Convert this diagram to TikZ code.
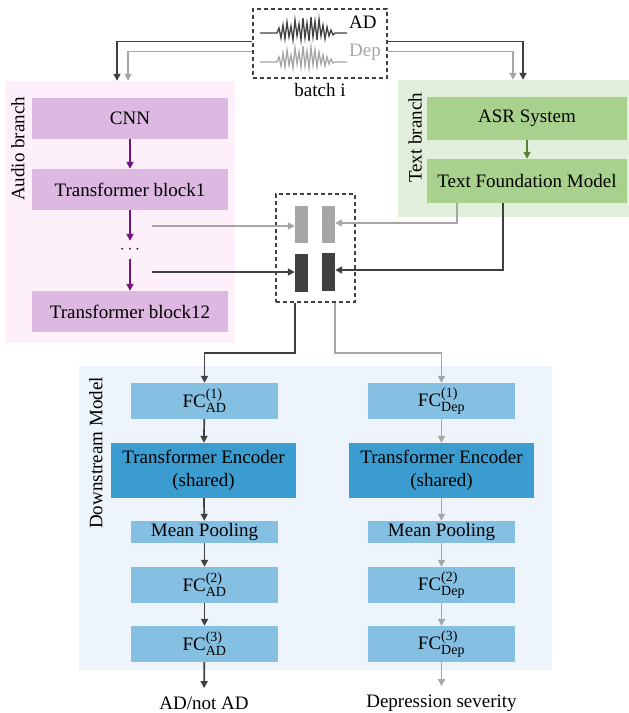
\documentclass[tikz,border=0pt]{standalone}
\usepackage{fontspec}
\setmainfont{Liberation Serif}
\usetikzlibrary{arrows.meta}

\definecolor{audiobgc}{HTML}{FDF0FB}
\definecolor{audioboxc}{HTML}{DDB8E0}
\definecolor{audioarrc}{HTML}{72147E}
\definecolor{textbgc}{HTML}{E2EFDA}
\definecolor{textboxc}{HTML}{A9D18E}
\definecolor{textarrc}{HTML}{548235}
\definecolor{downbgc}{HTML}{EDF4FB}
\definecolor{fcboxc}{HTML}{85C0E3}
\definecolor{encboxc}{HTML}{3B9CD0}
\definecolor{darkc}{HTML}{404040}
\definecolor{lightc}{HTML}{A6A6A6}

\newcommand{\scriptsz}{\fontsize{14}{14}\selectfont}
\newcommand{\fclabel}[2]{FC$^{\hbox{\scriptsz(#1)}}_{\hbox{\scriptsz#2}}$}

\tikzset{
  blk/.style={rectangle, inner sep=0pt, minimum width=#1},
  audiobox/.style={blk=196, minimum height=41, fill=audioboxc},
  textbox/.style={blk=200, fill=textboxc},
  fcbox/.style={blk=147, minimum height=36, fill=fcboxc},
  encbox/.style={blk=185, minimum height=55, fill=encboxc, align=center},
  bar/.style={blk=13, minimum height=37},
  dashbox/.style={draw=darkc, dash pattern=on 4pt off 3pt, line width=1.4pt},
  tip/.style={-{Triangle[length=7pt,width=7pt]}, line width=1.7pt},
  dkline/.style={tip, draw=darkc},
  ltline/.style={tip, draw=lightc},
  sidelbl/.style={rotate=90}
}

\begin{document}
\begin{tikzpicture}[x=1pt, y=-1pt, font=\fontsize{19}{22.5}\selectfont]
  \useasboundingbox (0,0) rectangle (629,713);

  \node[blk=230, minimum height=262, fill=audiobgc] (audiobg) at (120,212) {};
  \node[blk=231, minimum height=137, fill=textbgc] (textbg) at (513.5,148.5) {};
  \node[blk=473, minimum height=304, fill=downbgc] (downbg) at (315.5,518) {};

  \node[sidelbl] (audiolbl) at (18,149) {Audio branch};
  \node[sidelbl] (textlbl) at (415,138) {Text branch};
  \node[sidelbl] (downlbl) at (96,453) {Downstream Model};

  \node[audiobox] (cnn) at (130,118.5) {CNN};
  \node[audiobox] (tb1) at (130,189.5) {Transformer block1};
  \node[inner sep=0pt, minimum height=18] (dots) at (130,250) {$\cdots$};
  \node[audiobox] (tb12) at (130,311.5) {Transformer block12};
  \draw[tip, audioarrc] (cnn) -- (tb1);
  \draw[tip, audioarrc] (tb1) -- (dots);
  \draw[tip, audioarrc] (dots) -- (tb12);

  \node[textbox, minimum height=43] (asr) at (527,118.5) {ASR System};
  \node[textbox, minimum height=44] (tfm) at (527,181) {Text Foundation Model};
  \draw[tip, textarrc] (asr) -- (tfm);

  \node[dashbox, blk=134, minimum height=69] (batch) at (320,43.5) {};
  \node (batchlbl) at (320,90) {batch i};
  \draw[darkc, line width=1.3pt] (260,33) -- (277,33) -- (279,28) -- (281,38) -- (283,25)
    -- (285,39) -- (287,22) -- (289,37) -- (291,26) -- (293,40) -- (295,20) -- (297,36)
    -- (299,24) -- (301,40) -- (303,18) -- (305,38) -- (307,23) -- (309,41) -- (311,17)
    -- (313,37) -- (315,21) -- (317,40) -- (319,19) -- (321,36) -- (323,25) -- (325,39)
    -- (327,27) -- (329,36) -- (331,30) -- (333,35) -- (335,33) -- (347,33);
  \draw[lightc, line width=1.3pt] (260,62) -- (277,62) -- (279,57) -- (281,66) -- (283,53)
    -- (285,67) -- (287,50) -- (289,65) -- (291,55) -- (293,68) -- (295,48) -- (297,64)
    -- (299,52) -- (301,67) -- (303,46) -- (305,66) -- (307,51) -- (309,68) -- (311,47)
    -- (313,65) -- (315,50) -- (317,67) -- (319,52) -- (321,64) -- (323,55) -- (325,66)
    -- (327,57) -- (329,64) -- (331,59) -- (333,63) -- (335,62) -- (347,62);
  \node[anchor=base west, inner sep=1pt] (adlbl) at (348,28) {AD};
  \node[anchor=base west, inner sep=1pt, text=lightc] (deplbl) at (348,56) {Dep};

  \draw[dkline] ([yshift=2pt]batch.west) -| ([xshift=-3pt]audiobg.north);
  \draw[ltline] ([yshift=-8pt]batch.west) -| ([xshift=8pt]audiobg.north);
  \draw[dkline] ([yshift=2pt]batch.east) -| ([xshift=9.5pt]textbg.north);
  \draw[ltline] ([yshift=-8pt]batch.east) -| ([xshift=-0.5pt]textbg.north);

  \node[dashbox, blk=79, minimum height=108] (mid) at (315.5,248) {};
  \node[bar, fill=lightc] (barLa) at (301.5,224.5) {};
  \node[bar, fill=lightc] (barLb) at (328.5,224.5) {};
  \node[bar, fill=darkc, minimum height=38] (barDa) at (301.5,273) {};
  \node[bar, fill=darkc, minimum height=38] (barDb) at (328.5,272) {};

  \coordinate (tapL) at (152,226);
  \coordinate (tapD) at (152,272);
  \draw[ltline] (tapL) -- (tapL -| barLa.west);
  \draw[dkline] (tapD) -- (tapD -| barDa.west);
  \draw[ltline] ([xshift=-70pt]tfm.south) |- ([yshift=1.5pt]barLb.east);
  \draw[dkline] ([xshift=-24pt]tfm.south) |- ([yshift=2pt]barDb.east);

  \node[fcbox] (fcA1) at (204.5,401) {\fclabel{1}{AD}};
  \node[encbox] (teA) at (203.5,470.5) {Transformer Encoder\\(shared)};
  \node[fcbox, minimum height=22] (mpA) at (204.5,532) {Mean Pooling};
  \node[fcbox] (fcA2) at (204.5,585) {\fclabel{2}{AD}};
  \node[fcbox] (fcA3) at (204.5,644) {\fclabel{3}{AD}};
  \node (outA) at (204,703) {AD/not AD};

  \node[fcbox] (fcD1) at (441.5,401) {\fclabel{1}{Dep}};
  \node[encbox] (teD) at (441.5,470.5) {Transformer Encoder\\(shared)};
  \node[fcbox, minimum height=22] (mpD) at (441.5,532) {Mean Pooling};
  \node[fcbox] (fcD2) at (441.5,585) {\fclabel{2}{Dep}};
  \node[fcbox] (fcD3) at (441.5,644) {\fclabel{3}{Dep}};
  \node (outD) at (441.5,703) {Depression severity};

  \draw[dkline] (mid.south -| barDa.west) -- ++(0,50) -| (fcA1.north);
  \draw[ltline] (mid.south -| barLb.east) -- ++(0,50) -| (fcD1.north);

  \draw[dkline] (fcA1) -- (teA);
  \draw[dkline] (teA) -- (mpA);
  \draw[dkline] (mpA) -- (fcA2);
  \draw[dkline] (fcA2) -- (fcA3);
  \draw[dkline, shorten >=5pt] (fcA3) -- (outA);

  \draw[ltline] (fcD1) -- (teD);
  \draw[ltline] (teD) -- (mpD);
  \draw[ltline] (mpD) -- (fcD2);
  \draw[ltline] (fcD2) -- (fcD3);
  \draw[ltline, shorten >=5pt] (fcD3) -- (outD);
\end{tikzpicture}
\end{document}
